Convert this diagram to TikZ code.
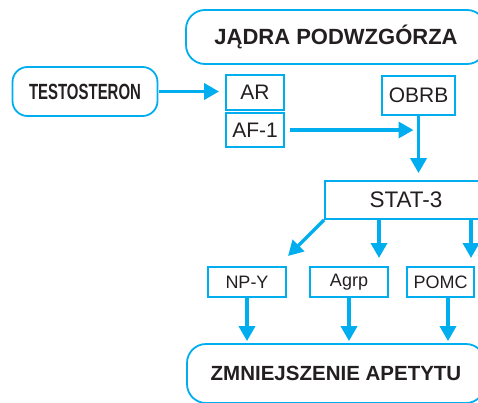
\documentclass[tikz,border=0pt]{standalone}
\usepackage{fontspec}
\setmainfont{Liberation Sans}
\newfontfamily\narrowfont[FakeStretch=0.68]{Liberation Sans}
\usetikzlibrary{arrows.meta}
\definecolor{boxblue}{RGB}{0,174,239}
\definecolor{inkgray}{RGB}{35,31,32}

\begin{document}
\begin{tikzpicture}[x=1pt,y=-1pt,line width=3.5pt,draw=boxblue,-{Triangle[length=15pt,width=16pt]}]
    		\tikzstyle{box}=[draw=boxblue,line width=1.8pt,text=inkgray,inner sep=0pt,font=\fontsize{21}{25}\selectfont,-]
    		\tikzstyle{round box}=[box,rounded corners=19pt,font=\bfseries\fontsize{21.5}{26}\selectfont]
    		\tikzstyle{small box}=[box,minimum width=78pt,minimum height=30pt,font=\fontsize{18}{22}\selectfont]
    		\clip (0,0) rectangle (478,402);
    		
    		\node[round box,minimum width=300pt,minimum height=54pt,font=\bfseries\fontsize{22}{26}\selectfont] (jadra) at (336,37) {JĄDRA PODWZGÓRZA};
    		\node[round box,rounded corners=15pt,minimum width=145pt,minimum height=49pt,font=\narrowfont\bfseries\fontsize{22}{26}\selectfont] (testo) at (85,91.5) {TESTOSTERON};
    		\node[box,minimum width=58pt,minimum height=35pt] (ar) at (255,92.5) {AR};
    		\node[box,minimum width=58pt,minimum height=34pt] (af1) at (255,130) {AF-1};
    		\node[box,minimum width=73pt,minimum height=39pt] (obrb) at (418.5,95.5) {OBRB};
    		\node[box,minimum width=162pt,minimum height=38pt,font=\fontsize{22.5}{27}\selectfont] (stat) at (406,200) {STAT-3};
    		\node[small box] (npy) at (247,282) {NP-Y};
    		\node[small box] (agrp) at (349,282) {Agrp};
    		\node[small box,minimum width=67pt] (pomc) at (440.5,282) {POMC};
    		\node[round box,minimum width=298pt,minimum height=59pt,font=\bfseries\fontsize{20.5}{25}\selectfont] (zmn) at (336,373.5) {ZMNIEJSZENIE APETYTU};
    		
    		\coordinate (npyin) at (288,256);
    		\coordinate (agrpin) at (379,258);
    		\coordinate (pomcin) at (471,258);
    		
    		\draw[shorten <=1pt,shorten >=6pt] (testo.east) -- (ar.west |- testo.east);
    		\draw[shorten <=5pt,shorten >=5pt] (af1.east) -- (af1.east -| obrb.south);
    		\draw[shorten >=7pt] (obrb.south) -- (stat.north -| obrb.south);
    		\draw (stat.south west) -- (npyin);
    		\draw (agrpin |- stat.south) -- (agrpin);
    		\draw (pomcin |- stat.south) -- (pomcin);
    		\draw[shorten >=2pt] (npy.south) -- (npy.south |- zmn.north);
    		\draw[shorten >=2pt] (agrp.south) -- (agrp.south |- zmn.north);
    		\draw[shorten >=2pt] ([xshift=7.5pt]pomc.south) -- ([xshift=7.5pt]pomc.south |- zmn.north);
    		
    	\end{tikzpicture}
\end{document}
